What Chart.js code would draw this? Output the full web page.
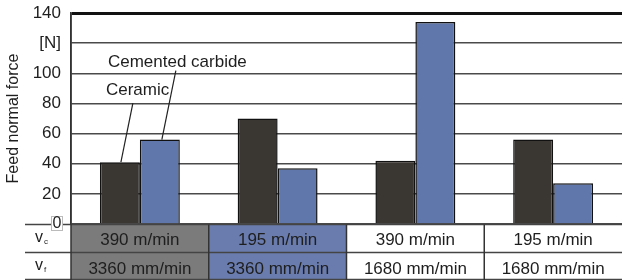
<!DOCTYPE html>
<html>
<head>
<meta charset="utf-8">
<script src="https://cdn.jsdelivr.net/npm/chart.js@4/dist/chart.umd.min.js"></script>
<style>
  html, body { margin: 0; padding: 0; background: #fff; }
  #wrap { width: 622px; height: 280px; }
</style>
</head>
<body>
<div id="wrap"><canvas id="c" width="622" height="280"></canvas></div>
<script>
// ===== データ =====
const vcLabels   = ['390 m/min', '195 m/min', '390 m/min', '195 m/min'];
const vfLabels   = ['3360 mm/min', '3360 mm/min', '1680 mm/min', '1680 mm/min'];
const ceramic    = [41, 70, 42, 56];
const carbide    = [56, 37, 134, 27];
const yTickLabels = { 0: '0', 20: '20', 40: '40', 60: '60', 80: '80', 100: '100', 120: '[N]', 140: '140' };

// ===== 見た目 =====
const FONT       = 'Liberation Sans, Arial, sans-serif';
const TEXT       = '#1e1e1e';
const CELL_FILLS = ['#7b7b7b', '#6a7cae', '#ffffff', '#ffffff'];

// 下の表 (v_c / v_f) と注記
const tablePlugin = {
  id: 'table',
  afterDraw(chart) {
    const { ctx, chartArea: ca } = chart;
    const n = vcLabels.length;
    const w = (ca.right - ca.left) / n;
    const top = ca.bottom + 0.5, mid = top + 28, bot = 279.5;

    ctx.save();
    // セル塗り
    for (let i = 0; i < n; i++) {
      const x0 = ca.left + i * w;
      ctx.fillStyle = CELL_FILLS[i];
      ctx.fillRect(x0, top, w, bot - top);
    }
    // 横線
    ctx.strokeStyle = '#444';
    ctx.lineWidth = 1.5;
    [top, mid, bot].forEach(y => {
      ctx.beginPath(); ctx.moveTo(25, y); ctx.lineTo(ca.right, y); ctx.stroke();
    });
    // 縦線
    ctx.strokeStyle = '#333';
    for (let i = 0; i < n; i++) {
      const x = ca.left + i * w;
      ctx.beginPath(); ctx.moveTo(x, i === 0 ? ca.top : top); ctx.lineTo(x, 280); ctx.stroke();
    }
    // テキスト
    ctx.fillStyle = TEXT;
    ctx.font = `17px ${FONT}`;
    ctx.textAlign = 'center';
    ctx.textBaseline = 'middle';
    for (let i = 0; i < n; i++) {
      const cx = ca.left + (i + 0.5) * w;
      ctx.fillText(vcLabels[i], cx, top + 16);
      ctx.fillText(vfLabels[i], cx, mid + 17);
    }
    // 行ラベル v_c, v_f
    ctx.textAlign = 'left';
    ctx.font = `16px ${FONT}`;
    ctx.fillText('v', 35, top + 13);
    ctx.fillText('v', 35, mid + 13);
    ctx.font = `8px ${FONT}`;
    ctx.fillText('c', 44, top + 17);
    ctx.fillText('f', 44, mid + 17);

    // 0 ラベルの枠
    const y0 = chart.scales.y.getPixelForValue(0);
    ctx.fillStyle = '#fff';
    ctx.strokeStyle = '#bbb';
    ctx.lineWidth = 1;
    ctx.fillRect(51, y0 - 8, 12, 15);
    ctx.strokeRect(51.5, y0 - 7.5, 11, 14);
    ctx.fillStyle = TEXT;
    ctx.font = `16px ${FONT}`;
    ctx.textAlign = 'center';
    ctx.fillText(yTickLabels[0], 57, y0);

    // 注記 (Ceramic / Cemented carbide)
    const b0 = chart.getDatasetMeta(0).data[0];
    const b1 = chart.getDatasetMeta(1).data[0];
    ctx.strokeStyle = '#222';
    ctx.lineWidth = 1.2;
    ctx.beginPath(); ctx.moveTo(b0.x + 1, b0.y); ctx.lineTo(b0.x + 13, b0.y - 59); ctx.stroke();
    ctx.beginPath(); ctx.moveTo(b1.x + 2, b1.y); ctx.lineTo(b1.x + 16, b1.y - 69); ctx.stroke();
    ctx.font = `17px ${FONT}`;
    ctx.textAlign = 'left';
    ctx.fillStyle = TEXT;
    ctx.fillText('Ceramic', b0.x - 14, b0.y - 72);
    ctx.fillText('Cemented carbide', b0.x - 12, b1.y - 77);
    ctx.restore();
  }
};

new Chart(document.getElementById('c').getContext('2d'), {
  type: 'bar',
  data: {
    labels: vcLabels.map((v, i) => `${v} / ${vfLabels[i]}`),
    datasets: [
      {
        label: 'Ceramic',
        data: ceramic,
        backgroundColor: '#3a3632',
        borderColor: '#111',
        borderWidth: 1.5,
      },
      {
        label: 'Cemented carbide',
        data: carbide,
        backgroundColor: '#6077ab',
        borderColor: '#111',
        borderWidth: 1.5,
      },
    ],
  },
  options: {
    responsive: false,
    animation: false,
    layout: { padding: { left: 0, right: 0, top: 13, bottom: 56 } },
    plugins: { legend: { display: false }, tooltip: { enabled: false } },
    datasets: { bar: { barPercentage: 1, categoryPercentage: 0.58 } },
    scales: {
      x: { display: false },
      y: {
        min: 0, max: 140,
        afterFit: s => { s.width = 71; s.paddingTop = 0; s.paddingBottom = 0; },
        border: { display: true, color: '#333', width: 1.5 },
        grid: {
          drawTicks: false,
          color: c => c.tick.value === 140 ? '#111' : '#4a4a4a',
          lineWidth: c => c.tick.value === 140 ? 3 : 1.5,
        },
        ticks: {
          stepSize: 20,
          padding: 10,
          color: TEXT,
          font: { family: FONT, size: 17 },
          callback: v => v === 0 ? '' : (yTickLabels[v] ?? ''),
        },
        title: {
          display: true,
          text: 'Feed normal force',
          color: TEXT,
          font: { family: FONT, size: 16 },
          padding: { top: 4, bottom: 0 },
        },
      },
    },
  },
  plugins: [tablePlugin],
});
</script>
</body>
</html>
